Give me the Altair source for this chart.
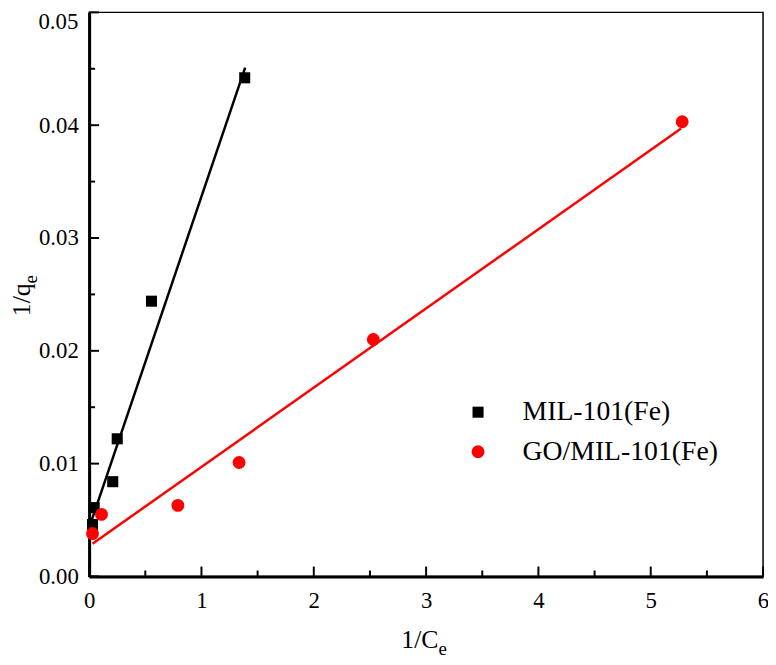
import altair as alt
import pandas as pd

# ---- data ----
series_names = ["MIL-101(Fe)", "GO/MIL-101(Fe)"]

mil_x = [0.03, 0.045, 0.21, 0.25, 0.555, 1.385]
mil_y = [0.0046, 0.0061, 0.0084, 0.0122, 0.0244, 0.0442]

go_x = [0.03, 0.11, 0.79, 1.335, 2.53, 5.28]
go_y = [0.0038, 0.0055, 0.0063, 0.0101, 0.0210, 0.0403]

# fitted lines (end points)
mil_fit_x = [0.02, 1.389]
mil_fit_y = [0.0049, 0.0451]
go_fit_x = [0.03, 5.27]
go_fit_y = [0.0029, 0.0397]

x_major = [0, 1, 2, 3, 4, 5, 6]
x_minor = [0.5, 1.5, 2.5, 3.5, 4.5, 5.5]
y_major = [0.0, 0.01, 0.02, 0.03, 0.04, 0.05]
y_minor = [0.005, 0.015, 0.025, 0.035, 0.045]
y_labels_axis = [0.0, 0.01, 0.02, 0.03, 0.04]   # top label drawn separately
y_top_label = [0.05]

FONT = "Liberation Serif"
TICK_FS = 23
H = 570
W = 681

pts = pd.DataFrame(
    {"x": mil_x + go_x,
     "y": mil_y + go_y,
     "series": [series_names[0]] * len(mil_x) + [series_names[1]] * len(go_x)}
)
fit_mil = pd.DataFrame({"x": mil_fit_x, "y": mil_fit_y})
fit_go = pd.DataFrame({"x": go_fit_x, "y": go_fit_y})

xs = alt.Scale(domain=[0, 6], nice=False, zero=False)
ys = alt.Scale(domain=[0, 0.05], nice=False, zero=False)

x_axis = alt.Axis(values=x_major, format="d", title=None, labelPadding=13,
                  labelFont=FONT, labelFontSize=TICK_FS, grid=False, ticks=False,
                  labelFlush=False)
y_axis = alt.Axis(values=y_labels_axis, format=".2f", title=None, labelPadding=11,
                  labelFont=FONT, labelFontSize=TICK_FS, grid=False, ticks=False,
                  labelFlush=False)

points = alt.Chart(pts).mark_point(filled=True, opacity=1, strokeWidth=0).encode(
    x=alt.X("x:Q", scale=xs, axis=x_axis),
    y=alt.Y("y:Q", scale=ys, axis=y_axis),
    color=alt.Color("series:N",
                    scale=alt.Scale(domain=series_names, range=["black", "red"]),
                    legend=alt.Legend(title=None, orient="none", legendX=379, legendY=390,
                                      labelFont=FONT, labelFontSize=28, labelColor="black",
                                      labelLimit=400,
                                      symbolSize=150, labelOffset=31, rowPadding=12,
                                      symbolStrokeWidth=0)),
    shape=alt.Shape("series:N",
                    scale=alt.Scale(domain=series_names, range=["square", "circle"]),
                    legend=None),
    size=alt.Size("series:N",
                  scale=alt.Scale(domain=series_names, range=[125, 170]),
                  legend=None),
)

line_mil = alt.Chart(fit_mil).mark_line(color="black", strokeWidth=2.5).encode(
    x=alt.X("x:Q", scale=xs, axis=x_axis), y=alt.Y("y:Q", scale=ys, axis=y_axis))
line_go = alt.Chart(fit_go).mark_line(color="red", strokeWidth=2.5).encode(
    x=alt.X("x:Q", scale=xs, axis=x_axis), y=alt.Y("y:Q", scale=ys, axis=y_axis))

# inward ticks
def yticks(vals, length):
    return alt.Chart(pd.DataFrame({"v": vals})).mark_rule(color="black", strokeWidth=2).encode(
        y=alt.Y("v:Q", scale=ys, axis=y_axis), x=alt.value(0), x2=alt.value(length))

def xticks(vals, length):
    return alt.Chart(pd.DataFrame({"v": vals})).mark_rule(color="black", strokeWidth=2).encode(
        x=alt.X("v:Q", scale=xs, axis=x_axis), y=alt.value(H), y2=alt.value(H - length))

# top y tick label (kept inside the page)
top_label = alt.Chart(pd.DataFrame({"v": y_top_label})).mark_text(
    font=FONT, fontSize=TICK_FS, color="black", align="right", baseline="top", dx=-11, dy=-1
).encode(y=alt.Y("v:Q", scale=ys, axis=y_axis), x=alt.value(0),
         text=alt.Text("v:Q", format=".2f"))

# axis titles with subscripts
def txt(t, x, y, size, align="left", angle=0):
    return alt.Chart(pd.DataFrame({"t": [t]})).mark_text(
        font=FONT, fontSize=size, color="black", align=align, baseline="alphabetic",
        angle=angle).encode(text="t:N", x=alt.value(x), y=alt.value(y))

titles = [
    txt("1/C", 353, 642, 26, align="right"),
    txt("e", 353, 649, 19, align="left"),
    txt("1/q", -60, 307, 26, align="left", angle=270),
    txt("e", -53, 274, 19, align="left", angle=270),
]

chart = alt.layer(
    points, line_mil, line_go,
    yticks(y_major, 10), yticks(y_minor, 6),
    xticks(x_major, 10), xticks(x_minor, 6),
    top_label,
    *titles,
).properties(
    width=W, height=H,
    autosize=alt.AutoSizeParams(type="none"),
    padding={"left": 82, "top": 1, "right": 5, "bottom": 80},
).configure(
    background="white", font=FONT,
).configure_axis(
    grid=False, ticks=False, tickSize=0, labelFlush=False,
    labelFont=FONT, labelFontSize=TICK_FS, labelColor="black",
    domainColor="black", domainWidth=3,
).configure_view(stroke="black", strokeWidth=1.5)

chart.save("out.html", embed_options={"renderer": "svg", "actions": False})
